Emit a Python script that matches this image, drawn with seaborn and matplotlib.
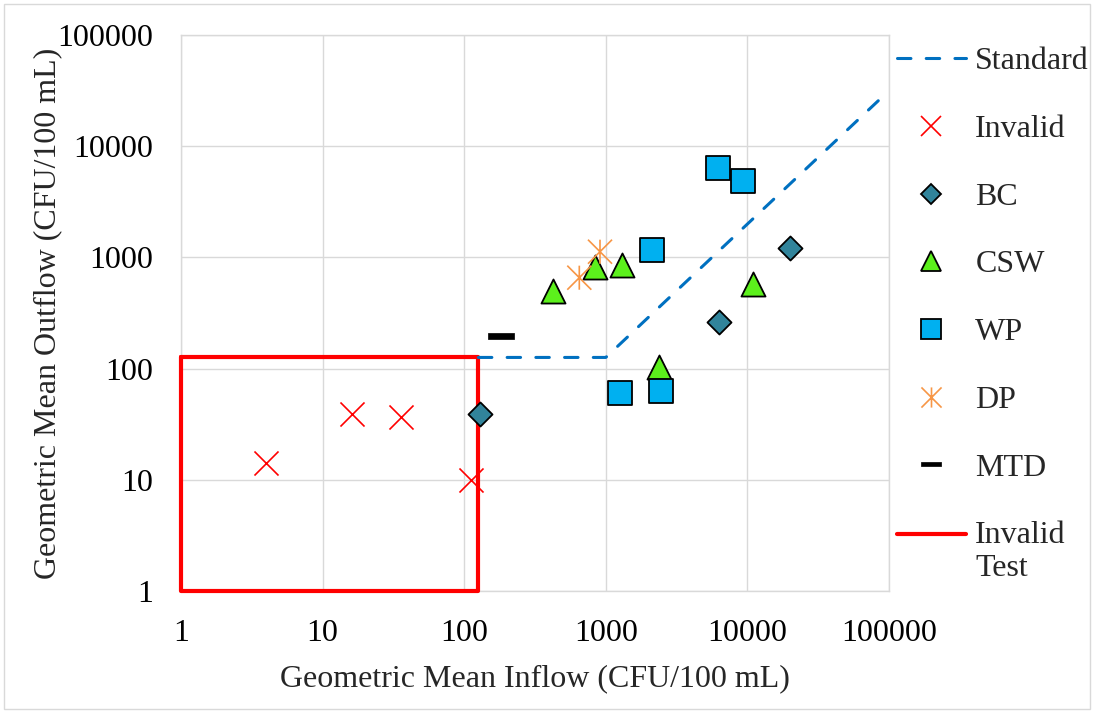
import numpy as np
import matplotlib
matplotlib.use("Agg")
import matplotlib.pyplot as plt
import seaborn as sns
from matplotlib.path import Path
from matplotlib.lines import Line2D
from matplotlib.patches import Rectangle
from matplotlib.legend_handler import HandlerLine2D

# ---------------- data ----------------
invalid_x = [4.0, 16.0, 36.0, 111.0]
invalid_y = [14.1, 38.8, 37.0, 10.0]
bc_x = [130, 6270, 20100]
bc_y = [39, 261, 1208]
csw_x = [424, 834, 1295, 2376, 10960]
csw_y = [495, 815, 855, 104, 577]
wp_x = [6170, 9350, 2110, 1267, 2466]
wp_y = [6330, 4900, 1166, 60.3, 62.5]
dp_x = [650, 910]
dp_y = [657, 1125]
mtd_x = [182]
mtd_y = [198]
standard_x = [126, 1000, 100000]
standard_y = [126, 126, 31600]
invalid_test_x = [1, 126, 126, 1, 1]
invalid_test_y = [126, 126, 1, 1, 126]
tick_values = [1, 10, 100, 1000, 10000, 100000]
tick_labels = ["1", "10", "100", "1000", "10000", "100000"]

# ---------------- style ----------------
sns.set_theme(style="white")
plt.rcParams["font.family"] = ["Liberation Serif", "DejaVu Serif"]
FS = 23

W, H = 1094, 713
fig = plt.figure(figsize=(W / 100, H / 100), dpi=100)
ax = fig.add_axes([181 / W, 1 - 591 / H, 708 / W, 556 / H])

# custom markers
asterisk = Path([(0, -1), (0, 1), (-1, -1), (1, 1), (-1, 1), (1, -1)],
                [Path.MOVETO, Path.LINETO, Path.MOVETO, Path.LINETO, Path.MOVETO, Path.LINETO])
dash_marker = Path([(-1, -0.23), (1, -0.23), (1, 0.23), (-1, 0.23), (-1, -0.23)],
                   [Path.MOVETO, Path.LINETO, Path.LINETO, Path.LINETO, Path.CLOSEPOLY])

C_STD = "#0070C0"
C_INV = "#FF0000"
C_BC = "#31849B"
C_CSW = "#5CF01C"
C_WP = "#00B0F0"
C_DP = "#F79646"
STD_DASH = (0, (4.4, 5.0))

# invalid test rectangle
sns.lineplot(x=invalid_test_x, y=invalid_test_y, sort=False, estimator=None,
             color=C_INV, linewidth=3.0, ax=ax, zorder=2.7, clip_on=False)
# standard
sns.lineplot(x=standard_x, y=standard_y, sort=False, estimator=None,
             color=C_STD, linewidth=2.2, linestyle=STD_DASH,
             dash_capstyle="round", ax=ax, zorder=2.7, clip_on=False)

sns.scatterplot(x=invalid_x, y=invalid_y, marker="x", s=300, color=C_INV,
                linewidth=1.2, ax=ax, zorder=3, legend=False)
sns.scatterplot(x=bc_x, y=bc_y, marker="D", s=150, color=C_BC, edgecolor="black",
                linewidth=1.3, ax=ax, zorder=3, legend=False)
sns.scatterplot(x=csw_x, y=csw_y, marker="^", s=300, color=C_CSW, edgecolor="black",
                linewidth=1.3, ax=ax, zorder=3, legend=False)
sns.scatterplot(x=wp_x, y=wp_y, marker="s", s=300, color=C_WP, edgecolor="black",
                linewidth=1.3, ax=ax, zorder=3, legend=False)
sns.scatterplot(x=dp_x, y=dp_y, marker=asterisk, s=300, color=C_DP, facecolor="none",
                edgecolor=C_DP, linewidth=1.2, ax=ax, zorder=3, legend=False)
sns.scatterplot(x=mtd_x, y=mtd_y, marker=dash_marker, s=350, color="black",
                edgecolor="black", linewidth=0.5, ax=ax, zorder=3, legend=False)

ax.set_xscale("log")
ax.set_yscale("log")
ax.set_xlim(1, 100000)
ax.set_ylim(1, 100000)
ax.set_xticks(tick_values)
ax.set_xticklabels(tick_labels)
ax.set_yticks(tick_values)
ax.set_yticklabels(tick_labels)
ax.minorticks_off()
ax.tick_params(axis="both", length=0, labelsize=FS, colors="black")
ax.tick_params(axis="x", pad=20)
ax.tick_params(axis="y", pad=20)
ax.set_axisbelow(True)
ax.grid(True, color="#D9D9D9", linewidth=1.0)
for sp in ax.spines.values():
    sp.set_visible(True)
    sp.set_color("#D9D9D9")
    sp.set_linewidth(1.0)

ax.set_xlabel("Geometric Mean Inflow (CFU/100 mL)", fontsize=FS, labelpad=12)
ax.set_ylabel("Geometric Mean Outflow (CFU/100 mL)", fontsize=FS, labelpad=-3.6)


class ShiftedHandler(HandlerLine2D):
    def __init__(self, shift, **kw):
        super().__init__(**kw)
        self.shift = shift

    def create_artists(self, legend, orig_handle, xdescent, ydescent, width, height,
                       fontsize, trans):
        arts = super().create_artists(legend, orig_handle, xdescent, ydescent, width,
                                      height, fontsize, trans)
        for a in arts:
            a.set_ydata(np.asarray(a.get_ydata(), dtype=float) + self.shift)
        return arts


handles = [
    Line2D([], [], color=C_STD, linewidth=2.2, linestyle=STD_DASH, dash_capstyle="round"),
    Line2D([], [], marker="x", linestyle="None", color=C_INV, markersize=14.5, markeredgewidth=1.2),
    Line2D([], [], marker="D", linestyle="None", markerfacecolor=C_BC, markeredgecolor="black",
           markersize=10.2, markeredgewidth=1.3),
    Line2D([], [], marker="^", linestyle="None", markerfacecolor=C_CSW, markeredgecolor="black",
           markersize=14.5, markeredgewidth=1.3),
    Line2D([], [], marker="s", linestyle="None", markerfacecolor=C_WP, markeredgecolor="black",
           markersize=14.5, markeredgewidth=1.3),
    Line2D([], [], marker=asterisk, linestyle="None", color=C_DP, markersize=14.5,
           markeredgewidth=1.2, markerfacecolor="none"),
    Line2D([], [], marker=dash_marker, linestyle="None", color="black", markersize=14.5,
           markeredgewidth=0.5),
    Line2D([], [], color=C_INV, linewidth=3.0),
]
labels = ["Standard", "Invalid", "BC", "CSW", "WP", "DP", "MTD", "Invalid\nTest"]
leg = fig.legend(handles, labels, loc="upper left",
                 bbox_to_anchor=(897 / W, 1 - 47 / H), bbox_transform=fig.transFigure,
                 frameon=False, fontsize=FS, handlelength=2.15, handletextpad=0.3,
                 labelspacing=1.2, borderpad=0, borderaxespad=0,
                 handler_map={handles[-1]: ShiftedHandler(13)})

fig.patches.append(Rectangle((4 / W, 4 / H), 1 - 8 / W, 1 - 8 / H, transform=fig.transFigure,
                             fill=False, edgecolor="#D9D9D9", linewidth=1.0))

fig.savefig("out.png", dpi=100)
